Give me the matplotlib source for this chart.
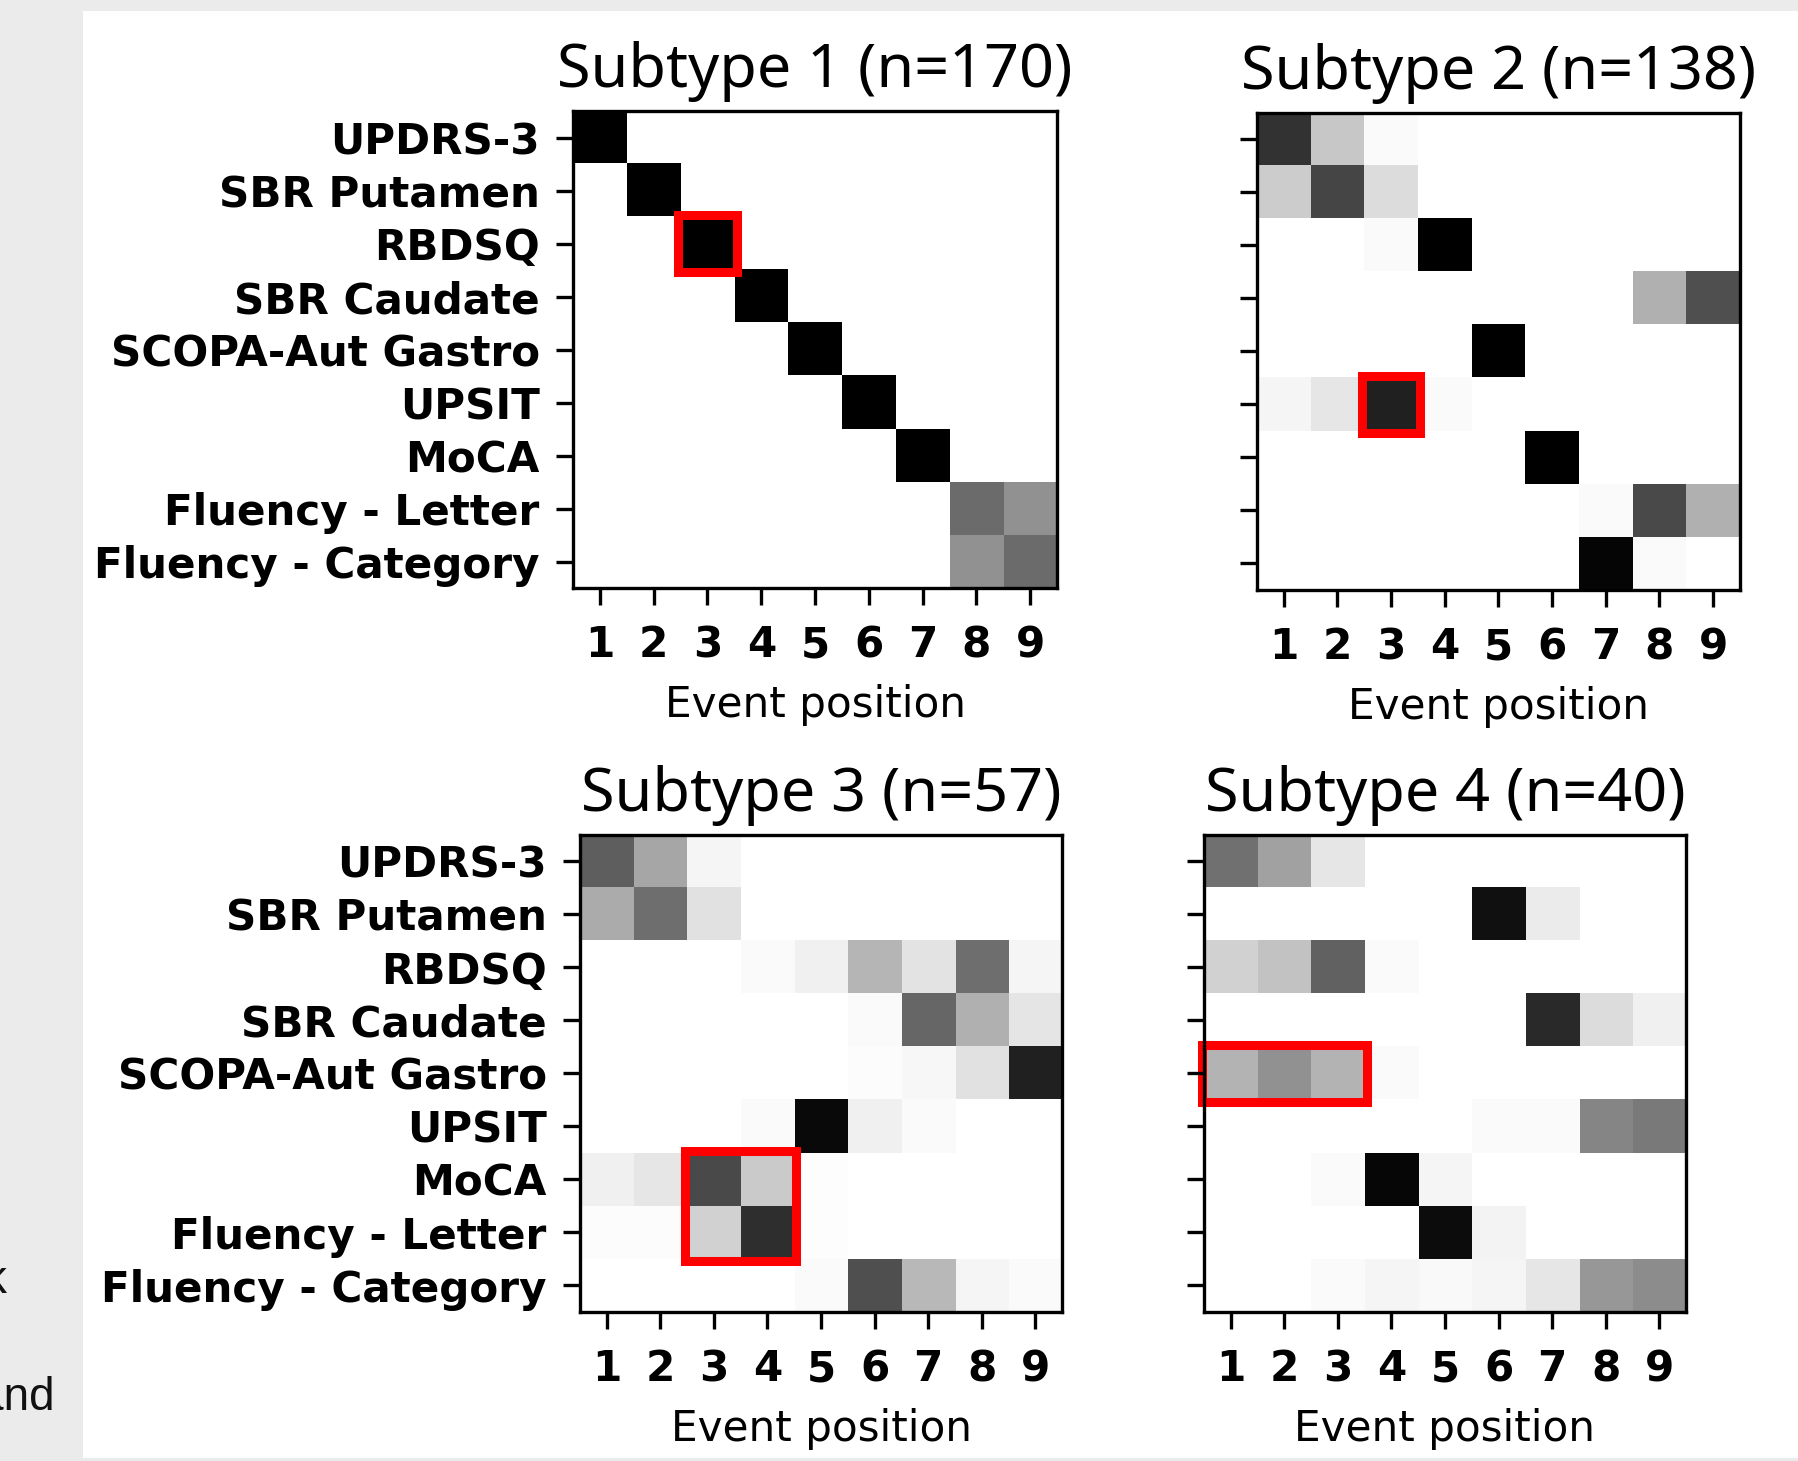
import matplotlib
matplotlib.use("Agg")
import matplotlib.pyplot as plt
from matplotlib.patches import Rectangle
import numpy as np

biomarkers = ["UPDRS-3", "SBR Putamen", "RBDSQ", "SBR Caudate", "SCOPA-Aut Gastro",
              "UPSIT", "MoCA", "Fluency - Letter", "Fluency - Category"]
positions = [1, 2, 3, 4, 5, 6, 7, 8, 9]
titles = ["Subtype 1 (n=170)", "Subtype 2 (n=138)", "Subtype 3 (n=57)", "Subtype 4 (n=40)"]

# probability of each biomarker (row) being at each event position (column)
subtype1 = [
    [1.00, 0, 0, 0, 0, 0, 0, 0, 0],
    [0, 1.00, 0, 0, 0, 0, 0, 0, 0],
    [0, 0, 1.00, 0, 0, 0, 0, 0, 0],
    [0, 0, 0, 1.00, 0, 0, 0, 0, 0],
    [0, 0, 0, 0, 1.00, 0, 0, 0, 0],
    [0, 0, 0, 0, 0, 1.00, 0, 0, 0],
    [0, 0, 0, 0, 0, 0, 1.00, 0, 0],
    [0, 0, 0, 0, 0, 0, 0, 0.58, 0.43],
    [0, 0, 0, 0, 0, 0, 0, 0.43, 0.58],
]
subtype2 = [
    [0.80, 0.22, 0.02, 0, 0, 0, 0, 0, 0],
    [0.20, 0.73, 0.14, 0, 0, 0, 0, 0, 0],
    [0, 0, 0.02, 1.00, 0, 0, 0, 0, 0],
    [0, 0, 0, 0, 0, 0, 0, 0.31, 0.69],
    [0, 0, 0, 0, 1.00, 0, 0, 0, 0],
    [0.04, 0.10, 0.87, 0.02, 0, 0, 0, 0, 0],
    [0, 0, 0, 0, 0, 1.00, 0, 0, 0],
    [0, 0, 0, 0, 0, 0, 0.02, 0.71, 0.31],
    [0, 0, 0, 0, 0, 0, 0.98, 0.02, 0],
]
subtype3 = [
    [0.63, 0.35, 0.04, 0, 0, 0, 0, 0, 0],
    [0.33, 0.57, 0.12, 0, 0, 0, 0, 0, 0],
    [0, 0, 0, 0.02, 0.06, 0.29, 0.11, 0.57, 0.04],
    [0, 0, 0, 0, 0, 0.02, 0.60, 0.31, 0.105],
    [0, 0, 0, 0, 0, 0.015, 0.035, 0.12, 0.87],
    [0, 0, 0, 0.02, 0.96, 0.06, 0.02, 0, 0],
    [0.06, 0.10, 0.71, 0.21, 0.01, 0, 0, 0, 0],
    [0.015, 0.015, 0.18, 0.82, 0.01, 0, 0, 0, 0],
    [0, 0, 0, 0, 0.02, 0.69, 0.28, 0.04, 0.02],
]
subtype4 = [
    [0.56, 0.37, 0.10, 0, 0, 0, 0, 0, 0],
    [0, 0, 0, 0, 0, 0.93, 0.08, 0, 0],
    [0.18, 0.24, 0.62, 0.02, 0, 0, 0, 0, 0],
    [0, 0, 0, 0, 0, 0, 0.835, 0.14, 0.06],
    [0.30, 0.43, 0.30, 0.02, 0, 0, 0, 0, 0],
    [0, 0, 0, 0, 0, 0.02, 0.02, 0.48, 0.52],
    [0, 0, 0.02, 0.975, 0.04, 0, 0, 0, 0],
    [0, 0, 0, 0, 0.95, 0.05, 0, 0, 0],
    [0, 0, 0.02, 0.04, 0.025, 0.04, 0.10, 0.41, 0.45],
]
# highlighted box per subtype: (first column, first row, n columns, n rows)
boxes = [(2, 2, 1, 1), (2, 5, 1, 1), (2, 6, 2, 2), (0, 4, 3, 1)]

plt.rcParams['font.family'] = 'DejaVu Sans'
plt.rcParams['font.size'] = 30.3
plt.rcParams['axes.linewidth'] = 2.4
plt.rcParams['xtick.major.size'] = 12
plt.rcParams['ytick.major.size'] = 12
plt.rcParams['xtick.major.width'] = 2.4
plt.rcParams['ytick.major.width'] = 2.4
plt.rcParams['xtick.major.pad'] = 14
plt.rcParams['ytick.major.pad'] = 12

fig = plt.figure(figsize=(17.98, 14.61), dpi=100, facecolor='#ebebeb')
fig.patches.append(Rectangle((83 / 1798, 3 / 1461), 1 - 83 / 1798, 1 - 14 / 1461,
                             transform=fig.transFigure, facecolor='white',
                             edgecolor='none', zorder=-10))

# leftovers of the page text behind the screenshot
fig.text(7 / 1798, 1 - 1293 / 1461, "k", ha='right', va='baseline',
         family='Liberation Sans', fontsize=33, color='#111111')
fig.text(55 / 1798, 1 - 1410 / 1461, "and", ha='right', va='baseline',
         family='Liberation Sans', fontsize=33, color='#111111')

rects = [[0.3187, 0.5975, 0.2692, 0.3265],
         [0.6991, 0.5962, 0.2686, 0.3265],
         [0.3226, 0.1020, 0.2681, 0.3265],
         [0.6696, 0.1020, 0.2681, 0.3265]]
data = [subtype1, subtype2, subtype3, subtype4]

for i in range(4):
    ax = fig.add_axes(rects[i])
    ax.imshow(np.array(data[i]), cmap='gray_r', vmin=0, vmax=1,
              interpolation='nearest', aspect='auto')
    ax.set_xticks(range(len(positions)))
    ax.set_xticklabels([str(p) for p in positions], fontweight='bold')
    ax.set_yticks(range(len(biomarkers)))
    if i % 2 == 0:
        ax.set_yticklabels(biomarkers, fontweight='bold')
    else:
        ax.set_yticklabels([])
    ax.set_xlabel("Event position", labelpad=13)
    ax.set_title(titles[i], family='Noto Sans', fontsize=44, pad=17)
    c, r, w, h = boxes[i]
    m = 0.04
    ax.add_patch(Rectangle((c - 0.5 - m, r - 0.5 - m), w + 2 * m, h + 2 * m,
                           fill=False, edgecolor='#ff0000', linewidth=6.5,
                           clip_on=False))

fig.savefig('out.png', dpi=100, facecolor=fig.get_facecolor())
